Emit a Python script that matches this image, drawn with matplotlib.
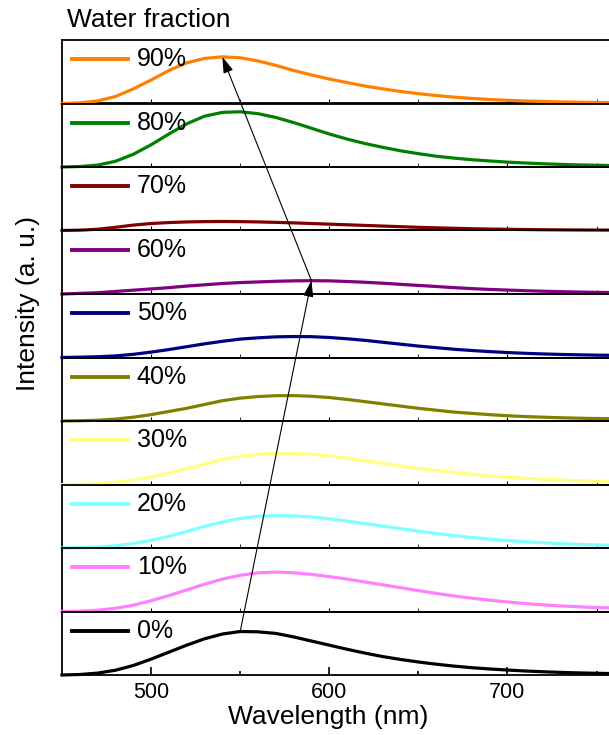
import matplotlib
matplotlib.use("Agg")
import matplotlib.pyplot as plt
from matplotlib.patches import ConnectionPatch
import numpy as np

plt.rcParams['font.family'] = ['Liberation Sans', 'DejaVu Sans']

# wavelength grid (nm)
wavelength = list(range(450, 761, 10))

# emission spectra (fraction of one panel height)
i_0 = [0.00, 0.008, 0.03, 0.075, 0.15, 0.25, 0.36, 0.47, 0.57, 0.645, 0.685, 0.68,
       0.655, 0.60, 0.535, 0.47, 0.405, 0.345, 0.29, 0.245, 0.205, 0.17, 0.14, 0.115,
       0.095, 0.078, 0.063, 0.051, 0.041, 0.033, 0.027, 0.022]
i_10 = [0.00, 0.005, 0.02, 0.05, 0.10, 0.17, 0.25, 0.34, 0.43, 0.51, 0.57, 0.61,
        0.62, 0.61, 0.585, 0.55, 0.51, 0.465, 0.42, 0.375, 0.33, 0.285, 0.245, 0.21,
        0.178, 0.15, 0.125, 0.105, 0.088, 0.074, 0.062, 0.055]
i_20 = [0.00, 0.005, 0.015, 0.035, 0.07, 0.12, 0.185, 0.26, 0.34, 0.41, 0.465, 0.50,
        0.51, 0.505, 0.49, 0.46, 0.425, 0.385, 0.345, 0.305, 0.265, 0.23, 0.195, 0.165,
        0.14, 0.118, 0.098, 0.082, 0.068, 0.057, 0.048, 0.042]
i_30 = [0.00, 0.005, 0.015, 0.035, 0.07, 0.12, 0.18, 0.25, 0.32, 0.39, 0.44, 0.475,
        0.49, 0.488, 0.475, 0.45, 0.415, 0.375, 0.335, 0.295, 0.255, 0.22, 0.19, 0.16,
        0.135, 0.115, 0.097, 0.082, 0.07, 0.06, 0.05, 0.045]
i_40 = [0.00, 0.004, 0.012, 0.03, 0.06, 0.10, 0.15, 0.20, 0.26, 0.32, 0.36, 0.385,
        0.398, 0.40, 0.39, 0.37, 0.34, 0.305, 0.27, 0.235, 0.20, 0.17, 0.14, 0.12,
        0.10, 0.083, 0.07, 0.06, 0.051, 0.044, 0.039, 0.036]
i_50 = [0.00, 0.005, 0.012, 0.025, 0.05, 0.085, 0.125, 0.17, 0.215, 0.255, 0.29, 0.31,
        0.325, 0.33, 0.328, 0.315, 0.295, 0.27, 0.24, 0.21, 0.18, 0.155, 0.13, 0.11,
        0.093, 0.078, 0.066, 0.056, 0.048, 0.042, 0.037, 0.034]
i_60 = [0.00, 0.01, 0.02, 0.04, 0.06, 0.08, 0.10, 0.125, 0.145, 0.165, 0.18, 0.19,
        0.20, 0.207, 0.21, 0.207, 0.197, 0.185, 0.17, 0.152, 0.135, 0.118, 0.10, 0.085,
        0.072, 0.062, 0.052, 0.044, 0.037, 0.031, 0.026, 0.022]
i_70 = [0.00, 0.005, 0.02, 0.05, 0.085, 0.11, 0.125, 0.135, 0.14, 0.142, 0.14, 0.135,
        0.128, 0.12, 0.11, 0.10, 0.09, 0.08, 0.07, 0.06, 0.05, 0.042, 0.035, 0.028,
        0.023, 0.019, 0.015, 0.012, 0.01, 0.008, 0.007, 0.006]
i_80 = [0.00, 0.008, 0.03, 0.09, 0.20, 0.35, 0.52, 0.68, 0.80, 0.86, 0.87, 0.84,
        0.78, 0.70, 0.61, 0.52, 0.44, 0.37, 0.31, 0.255, 0.21, 0.17, 0.14, 0.115,
        0.095, 0.077, 0.063, 0.051, 0.041, 0.033, 0.027, 0.022]
i_90 = [0.00, 0.01, 0.04, 0.11, 0.23, 0.37, 0.52, 0.64, 0.71, 0.735, 0.72, 0.67,
        0.60, 0.52, 0.45, 0.385, 0.33, 0.275, 0.23, 0.19, 0.155, 0.125, 0.10, 0.08,
        0.063, 0.05, 0.04, 0.032, 0.025, 0.02, 0.016, 0.013]

labels = ['90%', '80%', '70%', '60%', '50%', '40%', '30%', '20%', '10%', '0%']
spectra = [i_90, i_80, i_70, i_60, i_50, i_40, i_30, i_20, i_10, i_0]
colors = ['#FF8000', '#008000', '#800000', '#800080', '#000080',
          '#808000', '#FFFF80', '#80FFFF', '#FF80FF', '#000000']

fig = plt.figure(figsize=(6.09, 7.35), dpi=100)

left, right = 62 / 609, 1.0
bottom, top = 1 - 675 / 735, 1 - 40 / 735
h = (top - bottom) / len(labels)

axes = []
for k, (lab, y, c) in enumerate(zip(labels, spectra, colors)):
    ax = fig.add_axes([left, top - (k + 1) * h, right - left, h])
    ax.plot(wavelength, y, color=c, lw=2.3, clip_on=False, zorder=3)
    # legend entry for the panel
    ax.plot([455.6, 487], [0.70, 0.70], color=c, lw=2.8)
    ax.text(492, 0.70, lab, fontsize=18, va='center', ha='left')
    ax.set_xlim(450, 757)
    ax.set_ylim(0, 1)
    ax.set_yticks([])
    ax.set_xticks([500, 600, 700])
    ax.set_xticks([550, 650, 750], minor=True)
    ax.spines['right'].set_visible(False)
    for s in ('left', 'top', 'bottom'):
        ax.spines[s].set_linewidth(1.3)
    if k < len(labels) - 1:
        ax.tick_params(axis='x', which='both', direction='in', length=3,
                       labelbottom=False)
    else:
        ax.tick_params(axis='x', which='major', direction='in', length=6,
                       width=1.2, labelsize=15.5, pad=5)
        ax.tick_params(axis='x', which='minor', direction='in', length=3, width=1.2)
    ax.set_facecolor('none')
    axes.append(ax)

# arrows following the emission maximum: 0% -> 60% -> 90%
def peak(idx):
    y = spectra[idx]
    j = int(np.argmax(y))
    return wavelength[j], y[j]

i0, i60, i90 = labels.index('0%'), labels.index('60%'), labels.index('90%')
for a, b in [(i0, i60), (i60, i90)]:
    con = ConnectionPatch(xyA=peak(a), coordsA=axes[a].transData,
                          xyB=peak(b), coordsB=axes[b].transData,
                          arrowstyle='-|>,head_length=0.7,head_width=0.22',
                          mutation_scale=14, lw=0.8, color='black',
                          shrinkA=0, shrinkB=0, zorder=10)
    fig.add_artist(con)

fig.text(67 / 609, 1 - 20 / 735, 'Water fraction', fontsize=19, ha='left', va='center')
fig.text(28 / 609, 1 - 303 / 735, 'Intensity (a. u.)', fontsize=19, rotation=90,
         ha='center', va='center')
fig.text(328 / 609, 1 - 717 / 735, 'Wavelength (nm)', fontsize=19, ha='center', va='center')

fig.savefig('out.png', dpi=100)
